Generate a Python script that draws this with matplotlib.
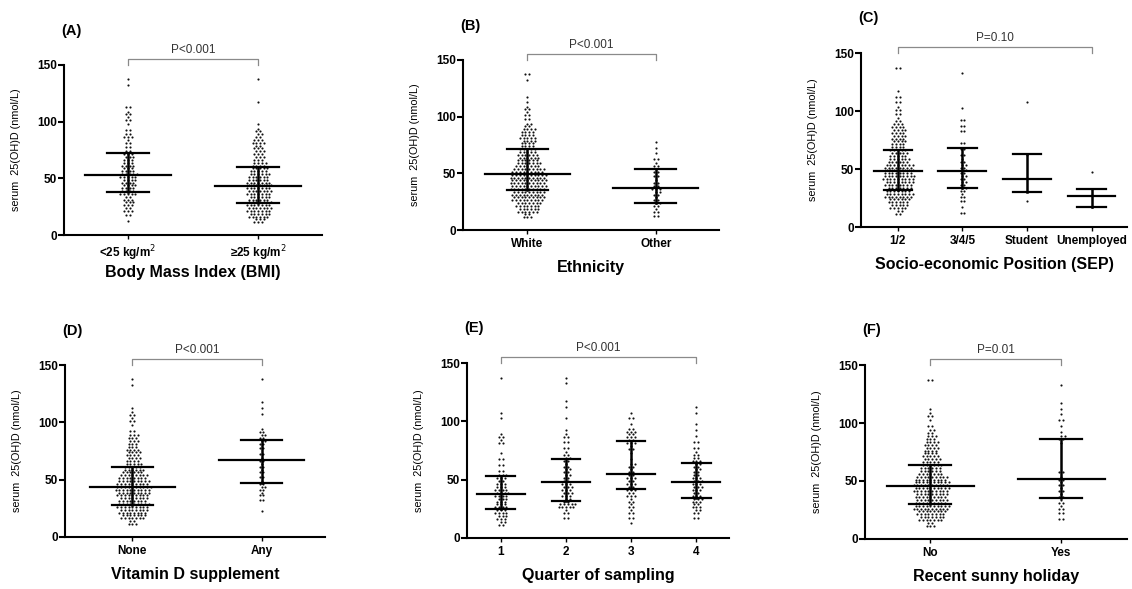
import matplotlib
matplotlib.use("Agg")
import matplotlib.pyplot as plt
import matplotlib.transforms as mtransforms

plt.rcParams['font.family'] = ['Liberation Sans', 'DejaVu Sans']

# ---------------- data (counts per 5 nmol/L bin, bins start at 10) ----------------
BIN_START = 10
BIN_WIDTH = 5

# (A) BMI
bmi_labels = ["<25 kg/m$^2$", "\u226525 kg/m$^2$"]
bmi_lt25 = [1, 2, 5, 6, 5, 9, 8, 8, 10, 7, 7, 6, 5, 2, 3, 5, 2, 1, 3, 3, 2, 0, 0, 0, 1, 1]
bmi_ge25 = [6, 12, 14, 14, 12, 14, 14, 13, 12, 10, 8, 6, 6, 5, 7, 4, 3, 1, 0, 0, 0, 1, 0, 0, 0, 1]
bmi_median = [53, 43]
bmi_q1 = [38, 28]
bmi_q3 = [72, 60]

# (B) Ethnicity
eth_labels = ["White", "Other"]
eth_white = [5, 12, 14, 18, 18, 20, 20, 20, 18, 14, 12, 11, 9, 8, 9, 8, 4, 2, 3, 3, 1, 1, 0, 0, 1, 2]
eth_other = [2, 3, 4, 3, 4, 5, 3, 2, 3, 3, 2, 1, 1, 1, 0, 0, 0, 0, 0, 0, 0, 0, 0, 0, 0, 0]
eth_median = [49, 37]
eth_q1 = [35, 24]
eth_q3 = [71, 54]

# (C) Socio-economic position
sep_labels = ["1/2", "3/4/5", "Student", "Unemployed"]
sep_12 = [4, 10, 12, 16, 14, 16, 18, 16, 16, 12, 10, 9, 8, 8, 8, 7, 3, 2, 3, 2, 2, 1, 0, 0, 0, 2]
sep_345 = [2, 1, 2, 3, 4, 4, 4, 4, 4, 3, 2, 2, 2, 0, 2, 2, 2, 0, 1, 0, 0, 0, 0, 0, 1, 0]
sep_student = [0, 0, 1, 0, 0, 0, 1, 0, 0, 0, 1, 0, 0, 0, 0, 0, 0, 0, 0, 1, 0, 0, 0, 0, 0, 0]
sep_unemployed = [0, 1, 0, 1, 1, 0, 0, 1, 0, 0, 0, 0, 0, 0, 0, 0, 0, 0, 0, 0, 0, 0, 0, 0, 0, 0]
sep_median = [48, 48, 41, 27]
sep_q1 = [32, 34, 30, 17]
sep_q3 = [66, 68, 63, 33]

# (D) Vitamin D supplement
vit_labels = ["None", "Any"]
vit_none = [5, 14, 16, 18, 16, 18, 20, 18, 16, 12, 10, 8, 8, 7, 6, 6, 2, 1, 3, 3, 1, 0, 0, 0, 1, 1]
vit_any = [0, 0, 1, 0, 2, 3, 4, 3, 2, 3, 3, 3, 2, 2, 4, 4, 3, 0, 0, 1, 1, 1, 0, 0, 0, 1]
vit_median = [44, 67]
vit_q1 = [28, 47]
vit_q3 = [61, 85]

# (E) Quarter of sampling
qtr_labels = ["1", "2", "3", "4"]
qtr_1 = [4, 6, 7, 7, 6, 8, 7, 5, 6, 2, 2, 2, 1, 0, 3, 3, 0, 0, 1, 1, 0, 0, 0, 0, 0, 1]
qtr_2 = [0, 2, 3, 10, 4, 6, 6, 5, 4, 4, 3, 4, 3, 2, 2, 3, 1, 0, 1, 0, 1, 1, 0, 0, 1, 1]
qtr_3 = [1, 2, 3, 3, 3, 5, 5, 5, 5, 3, 4, 1, 1, 3, 5, 5, 5, 1, 2, 1, 0, 0, 0, 0, 0, 0]
qtr_4 = [0, 2, 4, 5, 6, 5, 6, 6, 5, 4, 4, 5, 3, 2, 2, 1, 1, 1, 0, 1, 1, 0, 0, 0, 0, 0]
qtr_median = [38, 48, 55, 48]
qtr_q1 = [25, 32, 42, 34]
qtr_q3 = [53, 68, 83, 64]

# (F) Recent sunny holiday
hol_labels = ["No", "Yes"]
hol_no = [5, 14, 16, 20, 18, 18, 20, 20, 18, 13, 12, 10, 9, 8, 8, 6, 4, 2, 1, 3, 1, 0, 0, 0, 0, 2]
hol_yes = [0, 2, 2, 3, 3, 3, 3, 3, 3, 2, 0, 0, 0, 0, 1, 4, 1, 1, 2, 1, 1, 1, 0, 0, 1, 0]
hol_median = [46, 52]
hol_q1 = [30, 35]
hol_q3 = [64, 86]

panels = [
    dict(tag="(A)", xlabel="Body Mass Index (BMI)", cats=bmi_labels, groups=[bmi_lt25, bmi_ge25],
         med=bmi_median, q1=bmi_q1, q3=bmi_q3, p="P<0.001",
         rect=[0.0565, 0.601, 0.228, 0.289], xlim=(-0.49, 1.49)),
    dict(tag="(B)", xlabel="Ethnicity", cats=eth_labels, groups=[eth_white, eth_other],
         med=eth_median, q1=eth_q1, q3=eth_q3, p="P<0.001",
         rect=[0.409, 0.6095, 0.226, 0.289], xlim=(-0.5, 1.49)),
    dict(tag="(C)", xlabel="Socio-economic Position (SEP)", cats=sep_labels,
         groups=[sep_12, sep_345, sep_student, sep_unemployed],
         med=sep_median, q1=sep_q1, q3=sep_q3, p="P=0.10",
         rect=[0.7606, 0.6146, 0.235, 0.2954], xlim=(-0.57, 3.55)),
    dict(tag="(D)", xlabel="Vitamin D supplement", cats=vit_labels, groups=[vit_none, vit_any],
         med=vit_median, q1=vit_q1, q3=vit_q3, p="P<0.001",
         rect=[0.0574, 0.0883, 0.2297, 0.292], xlim=(-0.52, 1.49)),
    dict(tag="(E)", xlabel="Quarter of sampling", cats=qtr_labels, groups=[qtr_1, qtr_2, qtr_3, qtr_4],
         med=qtr_median, q1=qtr_q1, q3=qtr_q3, p="P<0.001",
         rect=[0.4125, 0.0866, 0.2314, 0.2971], xlim=(-0.52, 3.5)),
    dict(tag="(F)", xlabel="Recent sunny holiday", cats=hol_labels, groups=[hol_no, hol_yes],
         med=hol_median, q1=hol_q1, q3=hol_q3, p="P=0.01",
         rect=[0.764, 0.0849, 0.2314, 0.2954], xlim=(-0.5, 1.5)),
]

FIG_W, FIG_H = 1132, 589
fig = plt.figure(figsize=(FIG_W / 100, FIG_H / 100), dpi=100)


def swarm(ax, x0, counts, dx):
    """Lay the points of each 5-unit bin out in up to two horizontal rows."""
    xs, ys = [], []
    for i, n in enumerate(counts):
        if n == 0:
            continue
        nrows = 1 if n <= 2 else 2
        sizes = [n // nrows + (1 if r < n % nrows else 0) for r in range(nrows)]
        lo = BIN_START + i * BIN_WIDTH
        for r, m in enumerate(sizes):
            y = lo + (r + 0.5) * BIN_WIDTH / nrows
            shift = 0.5 * dx if (r == 1 and m % 2 == sizes[0] % 2) else 0.0
            for j in range(m):
                xs.append(x0 + (j - (m - 1) / 2) * dx + shift)
                ys.append(y)
    ax.scatter(xs, ys, s=2.4, c="#111111", marker="o", linewidths=0, zorder=2, clip_on=False)


for pdef in panels:
    ax = fig.add_axes(pdef["rect"])
    n = len(pdef["cats"])
    pos = list(range(n))
    ax.set_xlim(*pdef["xlim"])
    ax.set_ylim(0, 150)
    w_px = pdef["rect"][2] * FIG_W
    h_px = pdef["rect"][3] * FIG_H
    ppu = w_px / (pdef["xlim"][1] - pdef["xlim"][0])
    dx = 3.7 / ppu
    half_med = (0.33 if n == 2 else 0.37)
    half_q = (0.16 if n == 2 else 0.22)
    for k in range(n):
        swarm(ax, pos[k], pdef["groups"][k], dx)
        ax.plot([pos[k] - half_med, pos[k] + half_med], [pdef["med"][k]] * 2, color="black", lw=1.6, zorder=3)
        ax.plot([pos[k] - half_q, pos[k] + half_q], [pdef["q1"][k]] * 2, color="black", lw=1.6, zorder=3)
        ax.plot([pos[k] - half_q, pos[k] + half_q], [pdef["q3"][k]] * 2, color="black", lw=1.6, zorder=3)
        ax.plot([pos[k], pos[k]], [pdef["q1"][k], pdef["q3"][k]], color="black", lw=1.8, zorder=3)

    for side in ["top", "right"]:
        ax.spines[side].set_visible(False)
    for side in ["left", "bottom"]:
        ax.spines[side].set_linewidth(1.5)
    ax.set_yticks([0, 50, 100, 150])
    ax.set_xticks(pos)
    ax.set_xticklabels(pdef["cats"], fontsize=8.5, fontweight="bold")
    for lab in ax.get_yticklabels():
        lab.set_fontsize(8.5)
        lab.set_fontweight("bold")
    ax.tick_params(axis="y", direction="out", length=4, width=1.5, pad=1)
    ax.tick_params(axis="x", direction="out", length=3, width=1.0, pad=3)

    ax.set_ylabel("serum  25(OH)D (nmol/L)", fontsize=7.8)
    ax.yaxis.set_label_coords(-43 / w_px, 0.5)
    ax.set_xlabel(pdef["xlabel"], fontsize=11.5, fontweight="bold")
    ax.xaxis.label.set_va("center")
    ax.xaxis.set_label_coords(0.5, -37.5 / h_px)

    ax.text(-0.01, 1.2, pdef["tag"], transform=ax.transAxes, fontsize=10.5,
            fontweight="bold", ha="left", va="center")

    trans = mtransforms.blended_transform_factory(ax.transData, ax.transAxes)
    top = 1 + 6 / h_px
    ax.plot([pos[0], pos[0], pos[-1], pos[-1]], [1.0, top, top, 1.0], color="#8a8a8a",
            lw=0.9, transform=trans, clip_on=False)
    ax.text((pos[0] + pos[-1]) / 2, top + 3 / h_px, pdef["p"], transform=trans,
            fontsize=8.5, color="#333333", ha="center", va="bottom")

fig.savefig("out.png", dpi=100)
